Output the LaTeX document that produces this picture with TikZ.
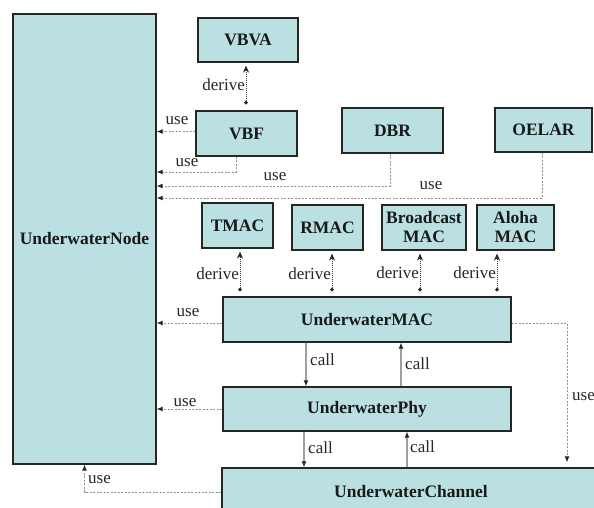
\documentclass[tikz,border=0pt]{standalone}
\usepackage{fontspec}
\setmainfont{Liberation Serif}
\usetikzlibrary{arrows.meta}
\definecolor{boxfill}{RGB}{187,224,226}
\begin{document}
\begin{tikzpicture}[x=1pt,y=-1pt,
  box/.style={draw=black!85, line width=1.2pt, fill=boxfill, text=black!90,
    font=\fontsize{17.5}{19}\selectfont\bfseries, align=center, inner sep=0pt},
  lbl/.style={font=\fontsize{17}{19}\selectfont, inner sep=0pt, text=black!85},
  usearrow/.style={draw=gray!85, line width=1pt, dash pattern=on 2pt off 1.5pt,
    -{Latex[length=6pt,width=5pt,black!85]}},
  callarrow/.style={draw=gray!75, line width=1.1pt,
    -{Latex[length=6pt,width=5pt,black!85]}},
  derivearrow/.style={draw=black!75, line width=1pt, dash pattern=on 1pt off 1pt,
    {Circle[length=3.5pt,black!85]}-{Stealth[length=7pt,width=6pt,black!85]}}]
\useasboundingbox (0,0) rectangle (594,507);
\clip (0,0) rectangle (594,507);

% boxes
\node[box, minimum width=143pt, minimum height=450pt] (Node) at (84.5,239) {UnderwaterNode};
\node[box, minimum width=100pt, minimum height=44pt] (VBVA) at (248,40) {VBVA};
\node[box, minimum width=101pt, minimum height=45pt] (VBF) at (246.5,133.5) {VBF};
\node[box, minimum width=101pt, minimum height=45pt] (DBR) at (392.5,130.5) {DBR};
\node[box, minimum width=97pt, minimum height=44pt] (OELAR) at (543.5,130) {OELAR};
\node[box, minimum width=71pt, minimum height=45pt] (TMAC) at (237.5,225.5) {TMAC};
\node[box, minimum width=71pt, minimum height=45pt] (RMAC) at (327.5,227.5) {RMAC};
\node[box, minimum width=84pt, minimum height=45pt] (BMAC) at (424,227.5) {Broadcast\\MAC};
\node[box, minimum width=77pt, minimum height=45pt] (AMAC) at (515.5,227.5) {Aloha\\MAC};
\node[box, minimum width=288pt, minimum height=45pt] (MAC) at (367,319.5) {UnderwaterMAC};
\node[box, minimum width=288pt, minimum height=44pt] (Phy) at (367,409) {UnderwaterPhy};
\node[box, minimum width=378pt, minimum height=48pt] (Channel) at (411,492) {UnderwaterChannel};

% helper coordinates
\coordinate (y172) at (0,172);
\coordinate (y186) at (0,186);
\coordinate (y198) at (0,198);
\coordinate (x567) at (567,0);
\path ([xshift=-10.5pt]VBF.south) coordinate (vbfb);
\path ([xshift=-2.5pt]DBR.south) coordinate (dbrb);
\path ([xshift=-1.5pt]OELAR.south) coordinate (oelb);
\path ([yshift=-3.5pt]MAC.west) coordinate (macw);
\path ([yshift=-3.5pt]MAC.east) coordinate (mace);
\path ([xshift=2.5pt]TMAC.south) coordinate (tm);
\path ([xshift=4.5pt]RMAC.south) coordinate (rm);
\path ([xshift=-4pt]BMAC.south) coordinate (bm);
\path ([xshift=-18.5pt]AMAC.south) coordinate (am);
\path ([xshift=-61pt]MAC.south) coordinate (c1);
\path ([xshift=34pt]Phy.north) coordinate (c2);
\path ([xshift=-63pt]Phy.south) coordinate (c3);
\path ([xshift=40pt]Phy.south) coordinate (c4);

% use connectors
\draw[usearrow] ([yshift=2pt]VBF.west) -- ([yshift=2pt]VBF.west -| Node.east);
\draw[usearrow] (vbfb) |- (Node.east |- y172);
\draw[usearrow] (dbrb) |- (Node.east |- y186);
\draw[usearrow] (oelb) |- (Node.east |- y198);
\draw[usearrow] (macw) -- (macw -| Node.east);
\draw[usearrow] (Phy.west) -- (Phy.west -| Node.east);
\draw[usearrow] (Channel.west) -| (Node.south);
\draw[usearrow, shorten >=5pt] (mace) -| (Channel.north -| x567);

\node[lbl] (u1) at (177,121) {use};
\node[lbl] (u2) at (187,163) {use};
\node[lbl] (u3) at (275,177) {use};
\node[lbl] (u4) at (431,186) {use};
\node[lbl] (u5) at (188,313) {use};
\node[lbl] (u6) at (185,403) {use};
\node[lbl, anchor=west] (u7) at (88,480) {use};
\node[lbl, anchor=west] (u8) at (572,397) {use};

% derive connectors
\draw[derivearrow, shorten <=6pt, shorten >=3pt] ([xshift=-0.5pt]VBF.north) -- ([xshift=-2pt]VBVA.south);
\draw[derivearrow, shorten <=5pt, shorten >=3pt] (tm |- MAC.north) -- (tm);
\draw[derivearrow, shorten <=5pt, shorten >=3pt] (rm |- MAC.north) -- (rm);
\draw[derivearrow, shorten <=5pt, shorten >=3pt] (bm |- MAC.north) -- (bm);
\draw[derivearrow, shorten <=5pt, shorten >=3pt] (am |- MAC.north) -- (am);

\node[lbl, anchor=east] (d0) at (245,85) {derive};
\node[lbl, anchor=east] (d1) at (239,274) {derive};
\node[lbl, anchor=east] (d2) at (331,274) {derive};
\node[lbl, anchor=east] (d3) at (419,273) {derive};
\node[lbl, anchor=east] (d4) at (496,273) {derive};

% call connectors
\draw[callarrow] (c1) -- (c1 |- Phy.north);
\draw[callarrow] (c2) -- (c2 |- MAC.south);
\draw[callarrow] (c3) -- (c3 |- Channel.north);
\draw[callarrow] (c4 |- Channel.north) -- (c4);

\node[lbl, anchor=west] (k1) at (310,360) {call};
\node[lbl, anchor=west] (k2) at (405,364) {call};
\node[lbl, anchor=west] (k3) at (308,448) {call};
\node[lbl, anchor=west] (k4) at (410,447) {call};
\end{tikzpicture}
\end{document}
